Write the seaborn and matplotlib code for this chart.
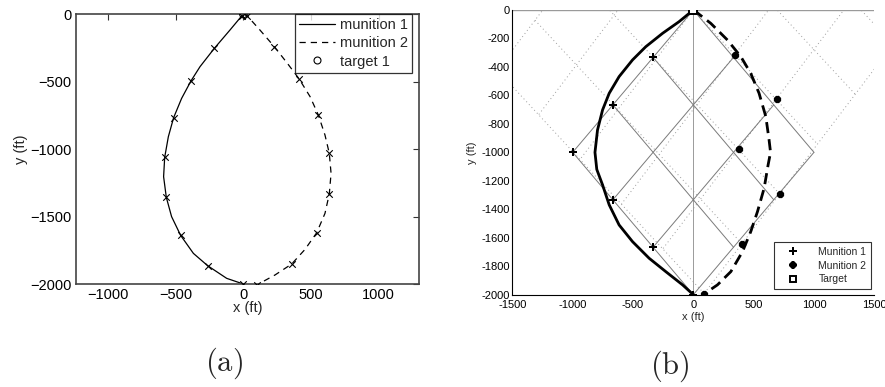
import numpy as np
import pandas as pd
import matplotlib
matplotlib.use("Agg")
import matplotlib.pyplot as plt
from matplotlib.lines import Line2D
from matplotlib.ticker import FormatStrFormatter, FixedLocator
import seaborn as sns

sns.set_style("white")
plt.rcParams["font.family"] = ["Liberation Sans", "DejaVu Sans"]
plt.rcParams["mathtext.fontset"] = "cm"

# ---------------- panel (a): trajectories with time stamps ----------------
a_m1_x = [0, -99, -214, -320, -387, -456, -515, -554, -581, -589, -569, -530, -463, -369, -264, -123, 0]
a_m1_y = [0, -119, -254, -390, -496, -625, -768, -909, -1062, -1205, -1358, -1501, -1640, -1773, -1864, -1958, -2000]
a_m1_mx = [-7, -214, -387, -515, -581, -569, -463, -264, 0]
a_m1_my = [-12, -254, -496, -768, -1062, -1358, -1640, -1864, -2000]

a_m2_x = [0, 30, 123, 229, 325, 411, 493, 554, 603, 635, 648, 635, 603, 542, 456, 357, 234, 99]
a_m2_y = [0, -15, -119, -242, -365, -479, -612, -748, -896, -1032, -1180, -1333, -1477, -1620, -1743, -1852, -1933, -2007]
a_m2_mx = [30, 229, 411, 554, 635, 635, 542, 357, 99]
a_m2_my = [-15, -242, -479, -748, -1032, -1333, -1620, -1852, -2007]

a_target = (0, 0)
a_xticks = [-1000, -500, 0, 500, 1000]
a_yticks = [-2000, -1500, -1000, -500, 0]

# ---------------- panel (b): lattice paths ----------------
b_m1_x = [0, -118, -255, -394, -504, -615, -697, -752, -794, -815, -800, -752, -697, -615, -504, -366, -228, -89, 0]
b_m1_y = [0, -82, -164, -258, -351, -468, -585, -702, -843, -1000, -1120, -1229, -1369, -1510, -1627, -1744, -1838, -1931, -2000]
b_m1_px = [0, -333, -667, -1000, -667, -333, 0]
b_m1_py = [0, -333, -667, -1000, -1333, -1667, -2000]

b_m2_x = [0, 21, 145, 283, 394, 476, 545, 601, 628, 640, 620, 587, 532, 476, 408, 311, 200, 91]
b_m2_y = [0, -12, -94, -211, -328, -445, -585, -749, -913, -1000, -1088, -1252, -1416, -1557, -1697, -1838, -1931, -1994]
b_m2_px = [0, 345, 690, 378, 718, 406, 91]
b_m2_py = [0, -316, -627, -978, -1294, -1645, -1994]

b_target = (0, 0)
# lattice step vectors of the two munitions' grids
grid1_u = (-333.3, -333.3)
grid1_v = (333.3, -333.3)
grid2_u = (343, -314)
grid2_v = (-313, -350)
b_xticks = [-1500, -1000, -500, 0, 500, 1000, 1500]
b_yticks = list(range(-2000, 1, 200))

fig = plt.figure(figsize=(8.85, 3.87), dpi=100)
ax1 = fig.add_axes([0.0859, 0.2661, 0.3876, 0.6977])
ax2 = fig.add_axes([0.5789, 0.2385, 0.4090, 0.7357])

# ---- (a)
sns.lineplot(x=a_m1_x, y=a_m1_y, sort=False, estimator=None, ax=ax1,
             color="black", lw=0.9, label="munition 1")
sns.lineplot(x=a_m2_x, y=a_m2_y, sort=False, estimator=None, ax=ax1,
             color="black", lw=0.9, linestyle=(0, (5, 4)), label="munition 2")
ax1.scatter(a_m1_mx, a_m1_my, marker="x", s=22, color="black", lw=0.8, zorder=3)
ax1.scatter(a_m2_mx, a_m2_my, marker="x", s=22, color="black", lw=0.8, zorder=3)
ax1.scatter([a_target[0]], [a_target[1]], marker="o", s=30, facecolor="none",
            edgecolor="black", lw=0.8, zorder=4)
ax1.set_xlim(-1236, 1298)
ax1.set_ylim(-2000, 0)
ax1.xaxis.set_major_locator(FixedLocator(a_xticks))
ax1.yaxis.set_major_locator(FixedLocator(a_yticks))
ax1.tick_params(direction="in", length=4, width=0.8, top=True, right=True,
                labelsize=10.5, colors="#333333", labelcolor="black", pad=3)
for s in ax1.spines.values():
    s.set_color("#444444")
    s.set_linewidth(1.2)
ax1.set_xlabel("x (ft)", fontsize=10.5, labelpad=-1)
ax1.set_ylabel("y (ft)", fontsize=10.5, labelpad=2)
h1 = [Line2D([], [], color="black", lw=0.9),
      Line2D([], [], color="black", lw=0.9, linestyle=(0, (5, 4))),
      Line2D([], [], color="black", lw=0, marker="o", markersize=5,
             markerfacecolor="none", markeredgewidth=0.8)]
leg1 = ax1.legend(h1, ["munition 1", "munition 2", "target 1"], loc="upper right",
                  bbox_to_anchor=(0.98, 1.0), borderaxespad=0, fontsize=10.5,
                  frameon=True, fancybox=False, edgecolor="black",
                  handlelength=2.5, handletextpad=0.3, borderpad=0.3,
                  labelspacing=0.28)
leg1.get_frame().set_linewidth(0.9)

# ---- (b)
def lattice(ax, u, v, lo, hi, **kw):
    u = np.asarray(u); v = np.asarray(v)
    for i in range(lo, hi + 1):
        p0 = i * u + lo * v
        p1 = i * u + hi * v
        ax.plot([p0[0], p1[0]], [p0[1], p1[1]], **kw)
    for j in range(lo, hi + 1):
        p0 = lo * u + j * v
        p1 = hi * u + j * v
        ax.plot([p0[0], p1[0]], [p0[1], p1[1]], **kw)

lattice(ax2, grid2_u, grid2_v, -2, 3, color="#9c9c9c", lw=0.7,
        linestyle=(0, (1, 3)), zorder=1)
lattice(ax2, grid1_u, grid1_v, 0, 3, color="#7a7a7a", lw=0.7, zorder=1.5)
ax2.axvline(0, color="#9a9a9a", lw=0.7, zorder=1)
ax2.axhline(0, color="#9a9a9a", lw=1.0, zorder=1)

sns.lineplot(x=b_m1_x, y=b_m1_y, sort=False, estimator=None, ax=ax2,
             color="black", lw=2.0, zorder=3)
sns.lineplot(x=b_m2_x, y=b_m2_y, sort=False, estimator=None, ax=ax2,
             color="black", lw=2.0, linestyle=(0, (4, 2.2)), zorder=3)
ax2.scatter(b_m1_px, b_m1_py, marker="P", s=28, color="black", lw=0, zorder=4)
ax2.scatter(b_m2_px, b_m2_py, marker="8", s=32, color="black", lw=0, zorder=4)
ax2.scatter([b_target[0]], [b_target[1]], marker="s", s=26, facecolor="white",
            edgecolor="black", lw=1.4, zorder=5)
ax2.set_xlim(-1500, 1500)
ax2.set_ylim(-2000, 0)
ax2.xaxis.set_major_locator(FixedLocator(b_xticks))
ax2.yaxis.set_major_locator(FixedLocator(b_yticks))
ax2.xaxis.set_major_formatter(FormatStrFormatter("%d"))
ax2.yaxis.set_major_formatter(FormatStrFormatter("%d"))
ax2.tick_params(direction="in", length=3, width=0.7, labelsize=8,
                colors="black", pad=2)
ax2.tick_params(axis="x", pad=3.5)
ax2.spines["top"].set_visible(False)
ax2.spines["right"].set_visible(False)
for s in ("left", "bottom"):
    ax2.spines[s].set_color("black")
    ax2.spines[s].set_linewidth(0.8)
ax2.set_xlabel("x (ft)", fontsize=8, labelpad=2)
ax2.set_ylabel("y (ft)", fontsize=8, labelpad=3)
h2 = [Line2D([], [], lw=0, marker="P", color="black", markersize=5.5, markeredgewidth=0),
      Line2D([], [], lw=0, marker="8", color="black", markersize=5.5, markeredgewidth=0),
      Line2D([], [], lw=0, marker="s", markersize=5, markerfacecolor="white",
             markeredgecolor="black", markeredgewidth=1.4)]
leg2 = ax2.legend(h2, ["Munition 1", "Munition 2", "Target"], loc="lower right",
                  bbox_to_anchor=(0.991, 0.02), borderaxespad=0, fontsize=7.5,
                  frameon=True, fancybox=False, edgecolor="black",
                  handlelength=2.8, handletextpad=1.0, borderpad=0.45,
                  labelspacing=0.35)
leg2.get_frame().set_linewidth(0.8)

# panel captions
fig.text(224 / 885, 1 - 363 / 387, r"$\mathrm{(a)}$", ha="center", va="center", fontsize=22)
fig.text(670 / 885, 1 - 366 / 387, r"$\mathrm{(b)}$", ha="center", va="center", fontsize=22)

fig.savefig("out.png", dpi=100, facecolor="white")
